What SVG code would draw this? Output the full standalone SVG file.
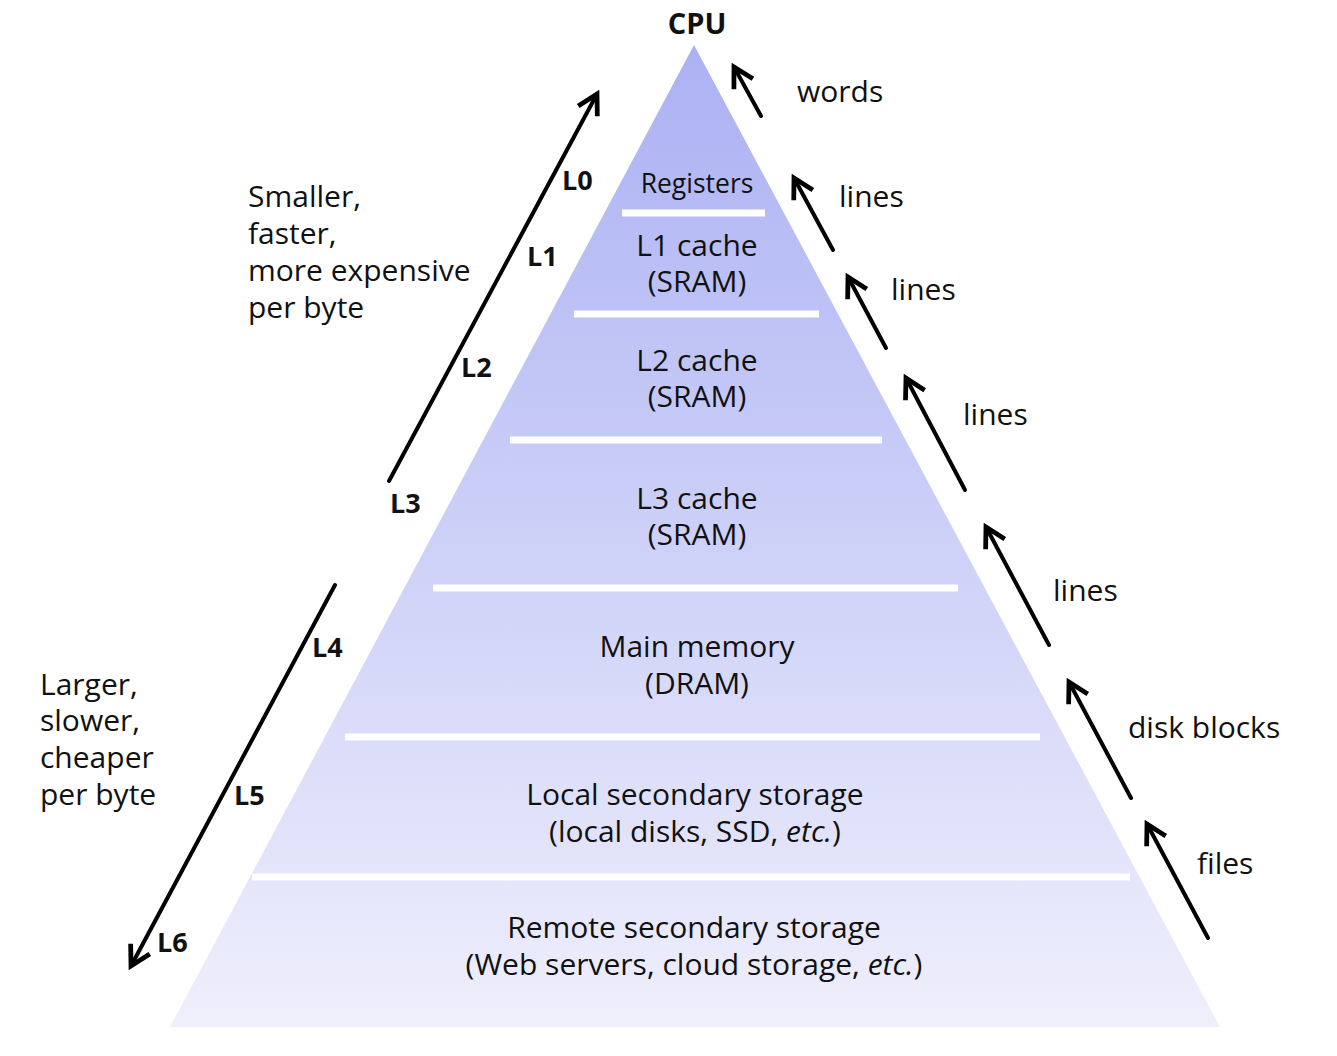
<svg xmlns="http://www.w3.org/2000/svg" width="1337" height="1056" viewBox="0 0 1337 1056">
<style>
text{font-family:"Open Sans","Noto Sans","DejaVu Sans",sans-serif;font-size:30px;fill:#111;}
.c{text-anchor:middle;}
.b{font-weight:bold;}
.lv{font-weight:bold;font-size:27px;}
.sep{stroke:#fff;stroke-width:7;}
.arr{stroke:#000;stroke-width:4;fill:none;stroke-linecap:round;marker-end:url(#ah);}
</style>
<defs>
<linearGradient id="g" x1="0" y1="45" x2="0" y2="1027" gradientUnits="userSpaceOnUse">
<stop offset="0" stop-color="#abb1f3"/>
<stop offset="1" stop-color="#efeffc"/>
</linearGradient>
<marker id="ah" viewBox="0 0 12 12" refX="10" refY="6" markerWidth="6.5" markerHeight="6.5" orient="auto" markerUnits="strokeWidth">
<path d="M1,1 L10,6 L1,11" fill="none" stroke="#000" stroke-width="2.2" stroke-linejoin="miter"/>
</marker>
</defs>
<g id="pyramid">
<polygon points="694,45 1220,1027 170,1027" fill="url(#g)"/>
<line class="sep" x1="622" y1="213" x2="765" y2="213"/>
<line class="sep" x1="574" y1="314" x2="819" y2="314"/>
<line class="sep" x1="510" y1="440" x2="882" y2="440"/>
<line class="sep" x1="433" y1="588" x2="958" y2="588"/>
<line class="sep" x1="345" y1="737" x2="1040" y2="737"/>
<line class="sep" x1="252" y1="877" x2="1130" y2="877"/>
</g>
<g id="cpu"><text class="c b" x="697" y="34" style="font-size:29px">CPU</text></g>
<g id="registers"><text class="c" x="697" y="193" style="font-size:26.5px">Registers</text></g>
<g id="l1"><text class="c" x="697" y="256">L1 cache</text><text class="c" x="697" y="292">(SRAM)</text></g>
<g id="l2"><text class="c" x="697" y="371">L2 cache</text><text class="c" x="697" y="407">(SRAM)</text></g>
<g id="l3"><text class="c" x="697" y="509">L3 cache</text><text class="c" x="697" y="545">(SRAM)</text></g>
<g id="main"><text class="c" x="697" y="657">Main memory</text><text class="c" x="697" y="694">(DRAM)</text></g>
<g id="local"><text class="c" x="695" y="805">Local secondary storage</text><text class="c" x="695" y="842">(local disks, SSD, <tspan font-style="italic">etc.</tspan>)</text></g>
<g id="remote"><text class="c" x="694" y="938">Remote secondary storage</text><text class="c" x="694" y="975">(Web servers, cloud storage, <tspan font-style="italic">etc.</tspan>)</text></g>
<g id="levels">
<text class="lv" x="562" y="190">L0</text>
<text class="lv" x="527" y="266">L1</text>
<text class="lv" x="461" y="377">L2</text>
<text class="lv" x="390" y="513">L3</text>
<text class="lv" x="312" y="657">L4</text>
<text class="lv" x="234" y="805">L5</text>
<text class="lv" x="157" y="952">L6</text>
</g>
<g id="left-notes">
<text x="248" y="207">Smaller,</text>
<text x="248" y="244">faster,</text>
<text x="248" y="281">more expensive</text>
<text x="248" y="318">per byte</text>
<text x="40" y="695">Larger,</text>
<text x="40" y="731">slower,</text>
<text x="40" y="768">cheaper</text>
<text x="40" y="805">per byte</text>
</g>
<g id="right-labels">
<text x="797" y="102">words</text>
<text x="839" y="207">lines</text>
<text x="891" y="300">lines</text>
<text x="963" y="425">lines</text>
<text x="1053" y="601">lines</text>
<text x="1128" y="738">disk blocks</text>
<text x="1197" y="874">files</text>
</g>
<g id="connectors">
<line class="arr" x1="389" y1="481" x2="597" y2="94"/>
<line class="arr" x1="335" y1="585" x2="131" y2="966"/>
<line class="arr" x1="761" y1="116" x2="734" y2="67"/>
<line class="arr" x1="833" y1="250" x2="794" y2="178"/>
<line class="arr" x1="886" y1="348" x2="848" y2="277"/>
<line class="arr" x1="965" y1="490" x2="906" y2="378"/>
<line class="arr" x1="1049" y1="645" x2="986" y2="527"/>
<line class="arr" x1="1131" y1="798" x2="1069" y2="682"/>
<line class="arr" x1="1208" y1="938" x2="1147" y2="824"/>
</g>
</svg>
